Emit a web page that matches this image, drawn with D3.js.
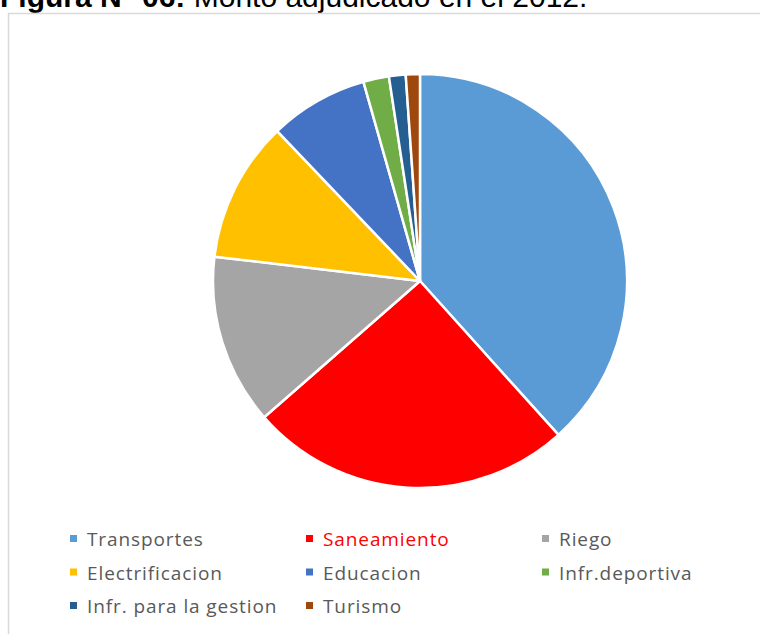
<!DOCTYPE html>
<html>
<head>
<meta charset="utf-8">
<script src="https://cdn.jsdelivr.net/npm/d3@7"></script>
<style>
  body { margin: 0; background: #fff; }
  svg { display: block; }
</style>
</head>
<body>
<div id="chart"></div>
<script>
const width = 760
const height = 634

const categories = ['Transportes', 'Saneamiento', 'Riego', 'Electrificacion', 'Educacion', 'Infr.deportiva', 'Infr. para la gestion', 'Turismo']
const values = [38.3, 25.2, 13.3, 11.0, 7.7, 2.0, 1.3, 1.1]
const colors = ['#5B9BD5', '#FF0000', '#A5A5A5', '#FFC000', '#4472C4', '#70AD47', '#255E91', '#9E480E']

const data = categories.map((c, i) => ({ label: c, value: values[i] }))

const svg = d3.select('#chart')
  .append('svg')
  .attr('width', width)
  .attr('height', height)

// title, cut off by the top edge of the picture
const title = svg.append('text')
  .attr('x', 0)
  .attr('y', 7)
  .attr('font-family', 'Liberation Sans, Arial, sans-serif')
  .attr('font-size', 30)
  .attr('fill', '#000')
title.append('tspan').attr('font-weight', 'bold').text('Figura N° 06:')
title.append('tspan').text(' Monto adjudicado en el 2012.')

// chart frame
svg.append('rect')
  .attr('x', 8.5)
  .attr('y', 13.5)
  .attr('width', 800)
  .attr('height', 700)
  .attr('fill', 'none')
  .attr('stroke', '#d9d9d9')
  .attr('stroke-width', 1.5)

const color = d3.scaleOrdinal().domain(categories).range(colors)

const pie = d3.pie()
  .sort(null)
  .value((d) => d.value)

const arc = d3.arc()
  .innerRadius(0)
  .outerRadius(207)

svg.append('g')
  .attr('transform', 'translate(420, 281)')
  .selectAll('path')
  .data(pie(data))
  .enter()
  .append('path')
  .attr('d', arc)
  .attr('fill', (d) => color(d.data.label))
  .attr('stroke', '#fff')
  .attr('stroke-width', 2.5)
  .attr('stroke-linejoin', 'round')

// legend, 3 columns
const colX = d3.scaleOrdinal().domain([0, 1, 2]).range([70, 306, 542])
const rowY = d3.scaleLinear().domain([0, 2]).range([539, 606])

const legend = svg.append('g')
  .selectAll('g')
  .data(data)
  .enter()
  .append('g')
  .attr('transform', (d, i) => `translate(${colX(i % 3)}, ${rowY(Math.floor(i / 3))})`)

legend.append('rect')
  .attr('x', 0)
  .attr('y', -4)
  .attr('width', 7)
  .attr('height', 7)
  .attr('fill', (d) => color(d.label))

legend.append('text')
  .attr('x', 17)
  .attr('y', 7)
  .attr('font-family', 'Open Sans, sans-serif')
  .attr('font-size', 19)
  .attr('letter-spacing', 0.9)
  .attr('fill', (d) => d.label === 'Saneamiento' ? '#FF0000' : '#595959')
  .text((d) => d.label)
</script>
</body>
</html>
